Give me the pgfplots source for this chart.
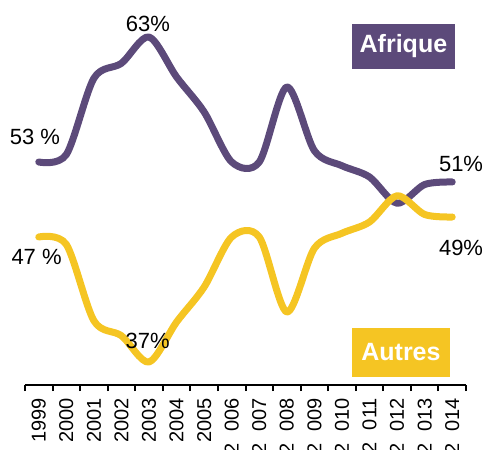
\documentclass[border=0pt]{standalone}
\usepackage{fontspec}
\setmainfont{Liberation Sans}
\usepackage{pgfplots}
\pgfplotsset{compat=1.18}
\definecolor{afr}{HTML}{5C4A7A}
\definecolor{aut}{HTML}{F5C523}
\begin{document}
\begin{tikzpicture}
\begin{axis}[
  at={(0,0)}, anchor=south west,
  scale only axis, width=441bp, height=385bp,
  xmin=-0.5, xmax=15.5, ymin=35.16, ymax=65.96,
  axis x line*=bottom, axis y line=none,
  axis line style={line width=2bp, black, -},
  clip=false,
  xtick={0,...,15},
  xticklabels={1999,2000,2001,2002,2003,2004,2005,2\hspace{0.6em}006,2\hspace{0.6em}007,2\hspace{0.6em}008,2\hspace{0.6em}009,2\hspace{0.6em}010,2\hspace{0.6em}011,2\hspace{0.6em}012,2\hspace{0.6em}013,2\hspace{0.6em}014},
  major tick length=0pt,
  tick align=outside,
  extra x ticks={-0.5,0.5,...,15.5},
  extra x tick labels={},
  extra x tick style={major tick length=6bp, tick style={line width=2bp, black}},
  xticklabel style={rotate=90, anchor=east, font=\fontsize{20bp}{20bp}\selectfont, inner sep=0pt},
  xticklabel shift=13bp,
]
\addplot[color=afr, line width=7bp, line cap=round, line join=round, smooth, no markers] coordinates {
(0,53) (1,53.6) (2,59.7) (3,60.9) (4,63) (5,59.8) (6,57) (7,53) (8,53) (9,59) (10,53.9) (11,52.7) (12,51.8) (13,49.7) (14,51.2) (15,51.4)
};
\addplot[color=aut, line width=7bp, line cap=round, line join=round, smooth, no markers] coordinates {
(0,47) (1,46.4) (2,40.3) (3,39.1) (4,37) (5,40.2) (6,43) (7,47) (8,47) (9,41) (10,46.1) (11,47.3) (12,48.2) (13,50.3) (14,48.8) (15,48.6)
};
\node[font=\fontsize{22bp}{22bp}\selectfont] at (axis cs:-0.14,55.0) {53 \%};
\node[font=\fontsize{22bp}{22bp}\selectfont] at (axis cs:3.96,64.04) {63\%};
\node[font=\fontsize{22bp}{22bp}\selectfont] at (axis cs:15.32,52.84) {51\%};
\node[font=\fontsize{22bp}{22bp}\selectfont] at (axis cs:-0.08,45.4) {47 \%};
\node[font=\fontsize{22bp}{22bp}\selectfont] at (axis cs:3.95,38.68) {37\%};
\node[font=\fontsize{22bp}{22bp}\selectfont] at (axis cs:15.32,46.12) {49\%};
\node[fill=afr, text=white, font=\bfseries\fontsize{25bp}{25bp}\selectfont, minimum width=103bp, minimum height=45bp, inner sep=0pt] at (axis cs:13.23,62.24) {Afrique};
\node[fill=aut, text=white, font=\bfseries\fontsize{25bp}{25bp}\selectfont, minimum width=98bp, minimum height=49bp, inner sep=0pt] at (axis cs:13.14,37.76) {Autres};
\end{axis}
\pgfresetboundingbox
\useasboundingbox (-25bp,-65bp) rectangle (462bp,385bp);
\end{tikzpicture}
\end{document}
